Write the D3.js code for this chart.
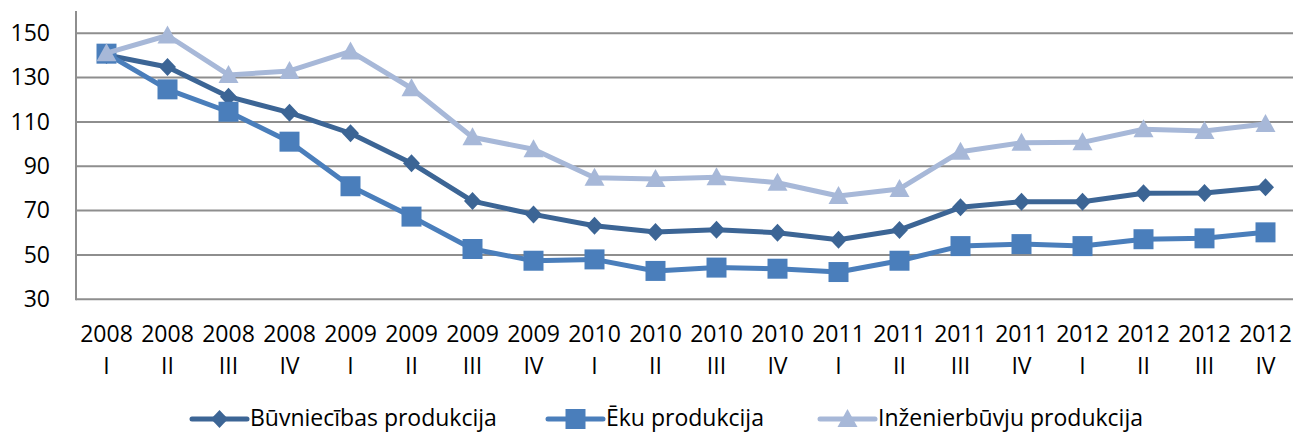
<!DOCTYPE html>
<html lang="lv">
<head>
<meta charset="utf-8">
<title>Būvniecības produkcija</title>
<script src="https://cdn.jsdelivr.net/npm/d3@7"></script>
<style>
  body { margin: 0; background: #fff; }
  text { font-family: "Open Sans", sans-serif; fill: #000; }
</style>
</head>
<body>
<script>
// categories: year + quarter
var years    = ["2008","2008","2008","2008","2009","2009","2009","2009","2010","2010","2010","2010","2011","2011","2011","2011","2012","2012","2012","2012"];
var quarters = ["I","II","III","IV","I","II","III","IV","I","II","III","IV","I","II","III","IV","I","II","III","IV"];

// series values
var buvniecibas  = [140.2, 134.8, 121.4, 114.2, 104.9, 91.4, 74.3, 68.3, 63.2, 60.4, 61.4, 60.0, 56.9, 61.3, 71.5, 74.0, 74.0, 77.8, 78.0, 80.5];
var eku          = [140.8, 124.7, 114.6, 101.1, 81.0, 67.3, 52.7, 47.4, 48.0, 42.8, 44.3, 43.8, 42.3, 47.4, 54.0, 54.9, 54.0, 57.1, 57.5, 60.2];
var inzenier     = [141.0, 149.0, 131.2, 133.0, 141.8, 125.2, 103.1, 97.7, 84.8, 84.3, 85.0, 82.6, 76.6, 79.8, 96.6, 100.6, 100.8, 106.7, 105.9, 109.1];

var seriesNames  = ["Būvniecības produkcija", "Ēku produkcija", "Inženierbūvju produkcija"];
var yTicks       = [30, 50, 70, 90, 110, 130, 150];

var w = 1293, h = 432;
var colors  = ["#3c6595", "#4a7ebb", "#a7b8d8"];
var markers = ["diamond", "square", "triangle"];
var allSeries = [buvniecibas, eku, inzenier];

var svg = d3.select("body").append("svg")
    .attr("width", w)
    .attr("height", h);

var x = d3.scaleBand()
    .domain(d3.range(years.length))
    .range([76, 1296]);

var y = d3.scaleLinear()
    .domain([30, 160])
    .range([299.3, 11.1]);

function cx(i) { return x(i) + x.bandwidth() / 2; }

// gridlines
svg.append("g").selectAll("line")
    .data(yTicks)
    .enter().append("line")
    .attr("x1", 76).attr("x2", w)
    .attr("y1", function(d) { return y(d); })
    .attr("y2", function(d) { return y(d); })
    .attr("stroke", "#8e8e8e")
    .attr("stroke-width", 2);

// left axis line
svg.append("line")
    .attr("x1", 76).attr("x2", 76)
    .attr("y1", y(160)).attr("y2", y(30) + 1)
    .attr("stroke", "#8e8e8e")
    .attr("stroke-width", 2);

// y labels
var yAxis = svg.append("g")
    .attr("transform", "translate(76,0)")
    .call(d3.axisLeft(y).tickValues(yTicks).tickSize(0).tickPadding(26));
yAxis.select(".domain").remove();
yAxis.selectAll("text")
    .attr("font-family", "Open Sans, sans-serif")
    .attr("font-size", "23px")
    .attr("fill", "#000");

// x labels (two lines)
var xl = svg.append("g").selectAll("text")
    .data(years)
    .enter().append("text")
    .attr("text-anchor", "middle")
    .attr("font-size", "23px");
xl.append("tspan")
    .attr("x", function(d, i) { return cx(i); })
    .attr("y", 341.5)
    .text(function(d) { return d; });
xl.append("tspan")
    .attr("x", function(d, i) { return cx(i); })
    .attr("y", 373.5)
    .text(function(d, i) { return quarters[i]; });

function markerPath(type) {
  if (type === "diamond") return "M0,-9L8.5,0L0,9L-8.5,0Z";
  if (type === "square") return "M-10,-10H10V10H-10Z";
  return "M0,-10L10,8L-10,8Z";
}

var line = d3.line()
    .x(function(d, i) { return cx(i); })
    .y(function(d) { return y(d); });

allSeries.forEach(function(vals, s) {
  var g = svg.append("g");
  g.append("path")
    .datum(vals)
    .attr("d", line)
    .attr("fill", "none")
    .attr("stroke", colors[s])
    .attr("stroke-width", 5)
    .attr("stroke-linejoin", "round");
  g.selectAll("path.m")
    .data(vals)
    .enter().append("path")
    .attr("class", "m")
    .attr("d", markerPath(markers[s]))
    .attr("transform", function(d, i) { return "translate(" + cx(i) + "," + y(d) + ")"; })
    .attr("fill", colors[s]);
});

// legend
var legendX = [192, 548, 820];
var leg = svg.append("g").selectAll("g")
    .data(seriesNames)
    .enter().append("g")
    .attr("transform", function(d, i) { return "translate(" + legendX[i] + ",419)"; });
leg.append("line")
    .attr("x1", 0).attr("x2", 55)
    .attr("stroke", function(d, i) { return colors[i]; })
    .attr("stroke-width", 5)
    .attr("stroke-linecap", "round");
leg.append("path")
    .attr("d", function(d, i) { return markerPath(markers[i]); })
    .attr("transform", "translate(27.5,0)")
    .attr("fill", function(d, i) { return colors[i]; });
leg.append("text")
    .attr("x", 58)
    .attr("y", 7)
    .attr("font-size", "23px")
    .text(function(d) { return d; });
</script>
</body>
</html>
